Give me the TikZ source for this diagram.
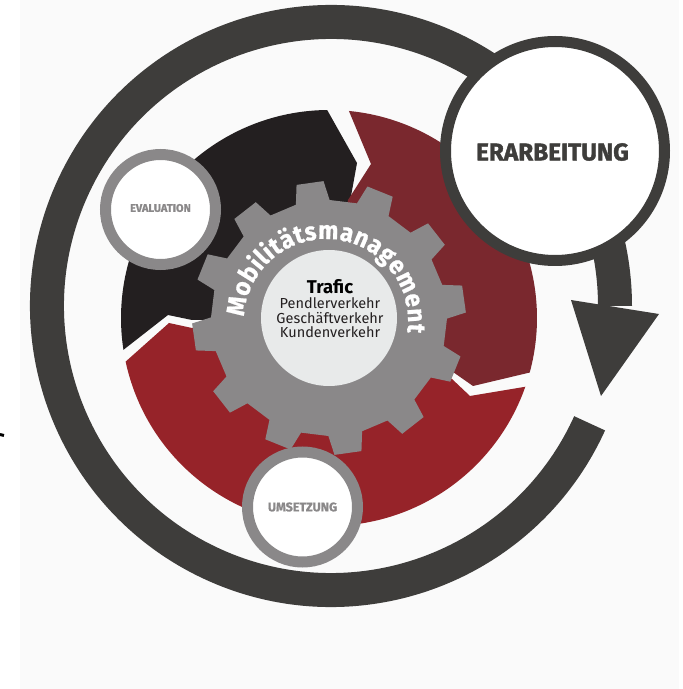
\documentclass[tikz,border=0pt]{standalone}
\usepackage{fontspec}
\setmainfont{Fira Sans}
\usepackage{xcolor}
\usepackage{tikz}
\usetikzlibrary{calc}
\usetikzlibrary{decorations.text}

\definecolor{ringgray}{HTML}{3E3D3B}
\definecolor{sgmtblack}{HTML}{231F20}
\definecolor{sgmtwine}{HTML}{7A282E}
\definecolor{sgmtred}{HTML}{962329}
\definecolor{geargray}{HTML}{8A8889}
\definecolor{hubgray}{HTML}{E8EAEA}
\definecolor{paper}{HTML}{FAFAFA}

\begin{document}
\begin{tikzpicture}[
  x=1pt, y=1pt,
  stage/.style={draw=geargray, line width=11pt, fill=white},
  stagelabel/.style={text=geargray, font=\bfseries\addfontfeature{FakeBold=1}\fontsize{#1}{12}\selectfont},
  sublabel/.style={text=sgmtblack, font=\fontsize{14.5}{15}\selectfont}
]

\useasboundingbox (0,0) rectangle (683,689);
\fill [white] (0,0) rectangle (683,689);
\fill [paper] (20,0) rectangle (679,689);
\draw [black, line width=3pt] (0,254.5) -- (4,253.5);

\coordinate (hub) at (329,371);
\coordinate (loop) at (331,383);

% three segments
\fill [sgmtblack] (hub) ++(188.8:208) arc [start angle=188.8, end angle=90.5, radius=208]
  -- (357,526) -- (hub) -- (192,369) -- (168,374) -- cycle;
\fill [sgmtwine] (hub) ++(84.5:208) arc [start angle=84.5, end angle=-15.2, radius=208]
  -- (473,303) -- (453,317) -- (hub) -- (348,489) -- (371,525) -- cycle;
\fill [sgmtred] (hub) ++(192.1:208) arc [start angle=192.1, end angle=340.7, radius=208]
  -- (470,293) -- (452,310) -- (hub) -- (192,361) -- (169,366) -- cycle;

% gear
\fill [geargray] (hub) ++(-13.3:118)
  \foreach \a in {8,38,...,338} {
    -- ($(hub)+(\a-8.3:118)$) -- ($(hub)+(\a-5.7:137)$)
    -- ($(hub)+(\a+5.7:137)$) -- ($(hub)+(\a+8.3:118)$)
  } -- cycle;
\fill [hubgray] (hub) circle [radius=68];

\path [postaction={decorate}, decoration={text along path, text color=white,
    text align={fit to path},
    text={|\bfseries\addfontfeature{FakeStretch=0.94,FakeBold=0.8}\fontsize{25.5}{26}\selectfont|Mobilitätsmanagement}}]
  (326,368) ++(177:82) arc [start angle=177, end angle=-8, radius=82];

\node (trafic) at (330,402) {\bfseries\fontsize{18.5}{20}\selectfont Trafic};
\node [sublabel] (pendler) at (330,386) {Pendlerverkehr};
\node [sublabel] (geschaeft) at (330,371) {Geschäftverkehr};
\node [sublabel] (kunden) at (330,357) {Kundenverkehr};

\draw [stage] (160.5,479.5) circle [radius=55];
\node [stagelabel=11] (evaluation) at (160.5,481) {EVALUATION};
\draw [stage] (302.5,182) circle [radius=55];
\node [stagelabel=12.5] (umsetzung) at (302.5,182) {UMSETZUNG};

% loop and arrow
\draw [ringgray, line width=34pt] (loop) ++(-24.4:284) arc [start angle=-24.4, end angle=-360, radius=284];
\fill [ringgray] (571,389) -- (659,375) -- (601,293) -- cycle;

\draw [draw=ringgray, line width=11pt, fill=white] (555,538) circle [radius=109.5];
\node [text=ringgray, font=\bfseries\addfontfeature{FakeBold=1.5}\fontsize{24.3}{25}\selectfont] (erarbeitung) at (552.5,537) {ERARBEITUNG};

\end{tikzpicture}
\end{document}
